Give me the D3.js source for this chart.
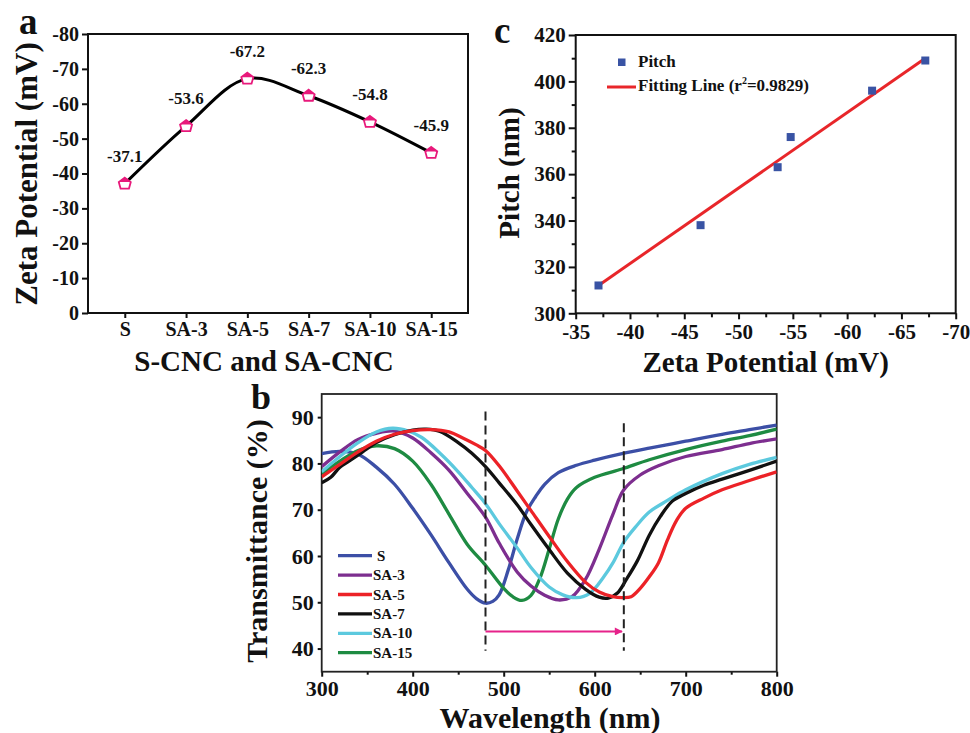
<!DOCTYPE html>
<html><head><meta charset="utf-8">
<script src="https://cdn.jsdelivr.net/npm/d3@7"></script>
<style>
body{margin:0;background:#fff}
text{font-family:"Liberation Serif","Times New Roman",Tinos,serif;font-weight:bold;fill:#111}
</style>
</head><body>
<svg id="fig" width="970" height="733"></svg>
<script>
// ---------- Panel a data ----------
const categories = ["S","SA-3","SA-5","SA-7","SA-10","SA-15"];
const zetaValues = [-37.1,-53.6,-67.2,-62.3,-54.8,-45.9];
const zetaTicks = [0,-10,-20,-30,-40,-50,-60,-70,-80];

// ---------- Panel c data ----------
const pitchZeta = [-37.1,-46.5,-53.6,-54.8,-62.3,-67.2];
const pitchValues = [312,338,363,376,396,409];
const fitZeta = [-37.1,-67.2];
const fitPitch = [312,410];
const zetaAxisTicks = [-35,-40,-45,-50,-55,-60,-65,-70];
const pitchTicks = [300,320,340,360,380,400,420];

// ---------- Panel b data (wavelength nm, transmittance %) ----------
const specS = [[300,82.1],[320,82.6],[340,82.0],[360,79.2],[380,75.5],[400,70.3],[420,64.6],[440,58.5],[460,52.8],[470,50.8],[480,49.8],[488,50.2],[495,51.6],[505,57],[515,63.8],[525,69.5],[535,72.8],[545,75.5],[560,78],[580,79.6],[600,80.7],[630,82.1],[660,83.3],[700,84.8],[740,86.3],[770,87.3],[800,88.3]];
const specSA3 = [[300,79.3],[320,82.5],[340,85.2],[360,86.5],[380,87],[400,85.5],[420,82.3],[440,78.5],[460,73.5],[480,68.4],[495,62.8],[515,56.5],[530,53.5],[545,51.5],[560,50.5],[575,51.2],[590,55],[605,61.5],[620,69],[632,74.3],[650,77.5],[670,79.5],[700,81.5],[740,83],[770,84.3],[800,85.3]];
const specSA5 = [[300,77.1],[320,79.8],[340,82.5],[360,84.8],[380,86.3],[400,87.1],[420,87.3],[440,86.8],[455,85.5],[470,84],[480,82.8],[495,79.5],[515,74],[530,69.8],[550,64.2],[570,58.8],[590,54.3],[605,52.2],[620,51.2],[630,51],[640,51.2],[650,53],[660,55.5],[670,58.5],[680,63.5],[690,67.7],[700,70.3],[720,72.5],[740,74.3],[770,76.3],[800,78.2]];
const specSA7 = [[300,75.8],[310,77],[320,79.2],[330,80.5],[345,82.5],[360,84.5],[380,86.2],[400,87.2],[415,87.4],[430,86.9],[450,84.5],[465,82.2],[480,79.3],[495,75.8],[515,71],[530,66.8],[550,61.4],[570,56.3],[590,52.8],[605,51.1],[615,50.9],[625,52],[635,55],[647,59],[660,64.5],[672,68.5],[685,71.8],[700,73.5],[720,75.3],[740,76.6],[770,78.5],[800,80.5]];
const specSA10 = [[300,78.2],[320,81.5],[340,84.5],[360,86.8],[378,87.6],[395,87],[410,85.6],[430,82.2],[450,78.2],[465,74.8],[480,71.3],[495,67],[515,61.7],[530,57.5],[550,53.3],[565,51.6],[580,51],[595,52],[610,55.5],[620,58.5],[632,63],[645,66.3],[660,69.5],[680,72],[700,74.3],[740,77.8],[770,79.8],[800,81.3]];
const specSA15 = [[300,77.8],[320,80.5],[340,82.8],[360,83.8],[380,83.2],[400,80.5],[420,75.5],[440,69],[460,62.5],[480,58],[500,53],[510,51.2],[520,50.4],[530,51.5],[540,55.3],[550,61.5],[560,68],[570,72.3],[580,74.8],[600,77],[630,78.8],[660,80.8],[700,83],[740,84.8],[770,86],[800,87.4]];
const specNames = ["S","SA-3","SA-5","SA-7","SA-10","SA-15"];
const specColors = ["#3c4fa6","#7d2e8f","#ec2227","#111111","#5cc9de","#1e8b42"];
const wlTicks = [300,400,500,600,700,800];
const wlMinor = [350,450,550,650,750];
const tTicks = [40,50,60,70,80,90];
const dashWl = [480,632];
const dashTop = [91.2,88.7];
const dashBottom = [39.5,39.5];
const arrowFrom = [480,43.7];
const arrowTo = [630,43.7];

const font = '"Liberation Serif","Times New Roman",Tinos,serif';
const svg = d3.select("#fig");

function styleAxis(g, size){
  g.attr("font-family",null).attr("font-size",null);
  g.selectAll("text").style("font-size", size+"px").attr("fill","#111");
  g.selectAll("line").attr("stroke","#111").attr("stroke-width",2);
  g.select(".domain").remove();
}

// ================= Panel a =================
{
  const L=88,R=468,T=34,B=313;
  const x = d3.scalePoint().domain(categories).range([L,R]).padding(0.6);
  const y = d3.scaleLinear().domain([0,-80]).range([B,T]);
  const g = svg.append("g");
  g.append("g").attr("transform",`translate(${L},0)`)
    .call(d3.axisLeft(y).tickValues(zetaTicks).tickSize(6).tickPadding(3).tickSizeOuter(0).tickFormat(d=>String(d)))
    .call(a=>styleAxis(a,20));
  g.append("g").attr("transform",`translate(0,${B})`)
    .call(d3.axisBottom(x).tickSize(5).tickPadding(4).tickSizeOuter(0))
    .call(a=>styleAxis(a,20));
  g.append("rect").attr("x",L).attr("y",T).attr("width",R-L).attr("height",B-T)
    .attr("fill","none").attr("stroke","#111").attr("stroke-width",2);
  const line = d3.line().x((d,i)=>x(categories[i])).y(d=>y(d)).curve(d3.curveCatmullRom.alpha(0.5));
  g.append("path").attr("d",line(zetaValues)).attr("fill","none").attr("stroke","#000").attr("stroke-width",3);
  const house = "M0,-6L6,-1.5L4.2,5L-4.2,5L-6,-1.5Z";
  const roof = "M0,-6L6,-1.5L-6,-1.5Z";
  const m = g.selectAll(".mk").data(zetaValues).join("g")
    .attr("transform",(d,i)=>`translate(${x(categories[i])},${y(d)})`);
  m.append("path").attr("d",house).attr("fill","#fff").attr("stroke","#e8197b").attr("stroke-width",1.8);
  m.append("path").attr("d",roof).attr("fill","#e8197b");
  g.selectAll(".lab").data(zetaValues).join("text")
    .attr("x",(d,i)=>x(categories[i])).attr("y",d=>y(d)-22)
    .attr("text-anchor","middle").style("font-size","17px").text(d=>d.toFixed(1));
  g.append("text").attr("transform","translate(37,174) rotate(-90)").attr("text-anchor","middle")
    .style("font-size","31px").text("Zeta Potential (mV)");
  g.append("text").attr("x",264).attr("y",371).attr("text-anchor","middle")
    .style("font-size","29px").text("S-CNC and SA-CNC");
  g.append("text").attr("x",19).attr("y",34).style("font-size","37px").text("a");
}

// ================= Panel c =================
{
  const L=575.7,R=955.7,T=35,B=313.3;
  const x = d3.scaleLinear().domain([-35,-70]).range([L,R]);
  const y = d3.scaleLinear().domain([300,420]).range([B,T]);
  const g = svg.append("g");
  g.append("g").attr("transform",`translate(${L},0)`)
    .call(d3.axisLeft(y).tickValues(pitchTicks).tickSize(7).tickPadding(3).tickSizeOuter(0))
    .call(a=>styleAxis(a,21));
  g.append("g").attr("transform",`translate(${L},0)`)
    .call(d3.axisLeft(y).tickValues(d3.range(310,420,20)).tickSize(4).tickFormat("").tickSizeOuter(0))
    .call(a=>styleAxis(a,21));
  g.append("g").attr("transform",`translate(0,${B})`)
    .call(d3.axisBottom(x).tickValues(zetaAxisTicks).tickSize(6).tickPadding(5).tickSizeOuter(0).tickFormat(d=>String(d)))
    .call(a=>styleAxis(a,21));
  g.append("g").attr("transform",`translate(0,${B})`)
    .call(d3.axisBottom(x).tickValues(d3.range(-37.5,-70,-5)).tickSize(4).tickFormat("").tickSizeOuter(0))
    .call(a=>styleAxis(a,21));
  g.append("rect").attr("x",L).attr("y",T).attr("width",R-L).attr("height",B-T)
    .attr("fill","none").attr("stroke","#111").attr("stroke-width",2);
  g.append("path").attr("d",d3.line().x(d=>x(d)).y((d,i)=>y(fitPitch[i]))(fitZeta))
    .attr("stroke","#e8262a").attr("stroke-width",3).attr("fill","none");
  g.selectAll(".sq").data(pitchValues).join("rect")
    .attr("x",(d,i)=>x(pitchZeta[i])-4).attr("y",d=>y(d)-4).attr("width",8).attr("height",8)
    .attr("fill","#3953a4");
  // legend
  g.append("rect").attr("x",618).attr("y",58.5).attr("width",7.5).attr("height",7.5).attr("fill","#3953a4");
  g.append("text").attr("x",638).attr("y",67).style("font-size","17px").text("Pitch");
  g.append("line").attr("x1",607).attr("x2",636).attr("y1",87).attr("y2",87).attr("stroke","#e8262a").attr("stroke-width",3);
  const ft = g.append("text").attr("x",638).attr("y",91).style("font-size","17px");
  ft.append("tspan").text("Fitting Line (r");
  ft.append("tspan").attr("dy",-7).style("font-size","10px").text("2");
  ft.append("tspan").attr("dy",7).text("=0.9829)");
  g.append("text").attr("transform","translate(519,173) rotate(-90)").attr("text-anchor","middle")
    .style("font-size","29px").text("Pitch (nm)");
  g.append("text").attr("x",765.7).attr("y",372).attr("text-anchor","middle")
    .style("font-size","29px").text("Zeta Potential (mV)");
  g.append("text").attr("x",494).attr("y",43).style("font-size","37px").text("c");
}

// ================= Panel b =================
{
  const L=321.7,R=776.7,T=394,B=671.7;
  const x = d3.scaleLinear().domain([300,800]).range([L,R]);
  const y = d3.scaleLinear().domain([35,95]).range([B,T]);
  const g = svg.append("g");
  g.append("defs").append("clipPath").attr("id","clipb").append("rect")
    .attr("x",L).attr("y",T).attr("width",R-L).attr("height",B-T);
  g.append("g").attr("transform",`translate(${L},0)`)
    .call(d3.axisLeft(y).tickValues(tTicks).tickSize(4).tickPadding(4).tickSizeOuter(0))
    .call(a=>styleAxis(a,22));
  g.append("g").attr("transform",`translate(0,${B})`)
    .call(d3.axisBottom(x).tickValues(wlTicks).tickSize(5).tickPadding(4).tickSizeOuter(0))
    .call(a=>styleAxis(a,22));
  g.append("g").attr("transform",`translate(0,${B})`)
    .call(d3.axisBottom(x).tickValues(wlMinor).tickSize(3).tickFormat("").tickSizeOuter(0))
    .call(a=>styleAxis(a,22));
  g.append("rect").attr("x",L).attr("y",T).attr("width",R-L).attr("height",B-T)
    .attr("fill","none").attr("stroke","#222").attr("stroke-width",1.8);
  const spectra = [specS,specSA3,specSA5,specSA7,specSA10,specSA15];
  const line = d3.line().x(d=>x(d[0])).y(d=>y(d[1])).curve(d3.curveCatmullRom.alpha(0.5));
  const draw = [0,5,1,4,3,2];
  draw.forEach(i=>{
    g.append("path").attr("d",line(spectra[i])).attr("fill","none")
      .attr("stroke",specColors[i]).attr("stroke-width",3.3).attr("clip-path","url(#clipb)");
  });
  dashWl.forEach((w,i)=>{
    g.append("line").attr("x1",x(w)).attr("x2",x(w)).attr("y1",y(dashTop[i])).attr("y2",y(dashBottom[i]))
      .attr("stroke","#222").attr("stroke-width",2).attr("stroke-dasharray","9,5");
  });
  svg.append("defs").append("marker").attr("id","arr").attr("viewBox","0 0 10 10")
    .attr("refX",9).attr("refY",5).attr("markerWidth",5).attr("markerHeight",4).attr("orient","auto")
    .attr("markerUnits","strokeWidth")
    .append("path").attr("d","M0,0L10,5L0,10Z").attr("fill","#e6228a");
  g.append("line").attr("x1",x(arrowFrom[0])).attr("y1",y(arrowFrom[1]))
    .attr("x2",x(arrowTo[0])).attr("y2",y(arrowTo[1]))
    .attr("stroke","#e6228a").attr("stroke-width",2).attr("marker-end","url(#arr)");
  // legend
  specNames.forEach((n,i)=>{
    const yy = 555.7 + i*19.4;
    g.append("line").attr("x1",338).attr("x2",372).attr("y1",yy).attr("y2",yy)
      .attr("stroke",specColors[i]).attr("stroke-width",3.3);
    g.append("text").attr("x",i===0?377:373).attr("y",yy+5).style("font-size","15px").text(n);
  });
  g.append("text").attr("transform","translate(267,541) rotate(-90)").attr("text-anchor","middle")
    .style("font-size","30px").text("Transmittance (%)");
  g.append("text").attr("x",550).attr("y",728).attr("text-anchor","middle")
    .style("font-size","30px").text("Wavelength (nm)");
  g.append("text").attr("x",251).attr("y",409).style("font-size","36px").text("b");
}

svg.selectAll("text").style("font-family", font).style("font-weight","bold");
</script>
</body></html>
